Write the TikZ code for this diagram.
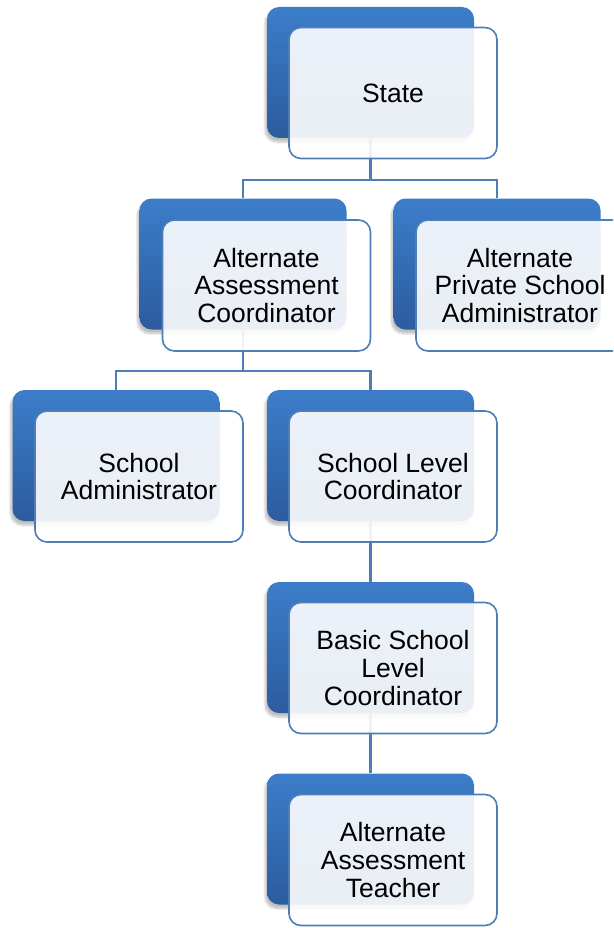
\documentclass[tikz,border=0pt]{standalone}
\usepackage{fontspec}
\setmainfont{Liberation Sans}
\usetikzlibrary{shadows.blur,backgrounds}
\definecolor{blueTop}{HTML}{3C7DCA}
\definecolor{blueBot}{HTML}{2C5C9E}
\definecolor{lineBlue}{HTML}{4F7DB8}
\definecolor{frontFill}{HTML}{FFFFFF}
\tikzset{
  backbox/.style={rounded corners=12pt, minimum width=207pt, minimum height=131pt,
    top color=blueTop, bottom color=blueBot, draw=none,
    blur shadow={shadow xshift=-2pt, shadow yshift=-4pt, shadow blur steps=6, shadow opacity=25}},
  frontbox/.style={rounded corners=12pt, minimum width=208pt, minimum height=131pt,
    draw=lineBlue, line width=1.6pt, fill=frontFill, fill opacity=0.9, text opacity=1,
    align=center, font=\fontsize{26.5}{27.6}\selectfont, inner sep=0pt},
  conn/.style={draw=lineBlue, line width=2.2pt}
}
\begin{document}
\begin{tikzpicture}[x=1pt, y=-1pt]
\useasboundingbox (0,0) rectangle (613,928);
\clip (0,0) rectangle (613,928);
% back boxes
\node[backbox] (stateB) at (370.5,72.5) {};
\node[backbox] (aacB)   at (243,264) {};
\node[backbox] (apsaB)  at (497,264) {};
\node[backbox] (saB)    at (116,455.5) {};
\node[backbox] (slcB)   at (370.5,455.5) {};
\node[backbox] (bslcB)  at (370.5,647.5) {};
\node[backbox] (aatB)   at (370.5,839) {};
% front boxes
\node[frontbox] (state) at (393,93) {State};
\node[frontbox] (aac)   at (266.5,285.5) {Alternate\\Assessment\\Coordinator};
\node[frontbox] (apsa)  at (520,285.5) {Alternate\\Private School\\Administrator};
\node[frontbox] (sa)    at (139,476.5) {School\\Administrator};
\node[frontbox] (slc)   at (393,476.5) {School Level\\Coordinator};
\node[frontbox] (bslc)  at (393,668) {Basic School\\Level\\Coordinator};
\node[frontbox] (aat)   at (393,860) {Alternate\\Assessment\\Teacher};
% connectors behind everything
\begin{scope}[on background layer]
\draw[conn] (stateB.south) -- ++(0,42) -| (aacB.north);
\draw[conn] (stateB.south) -- ++(0,42) -| (apsaB.north);
\draw[conn] (aacB.south) -- ++(0,41) -| (saB.north);
\draw[conn] (aacB.south) -- ++(0,41) -| (slcB.north);
\draw[conn] (slcB.south) -- (bslcB.north);
\draw[conn] (bslcB.south) -- (aatB.north);
\end{scope}
\end{tikzpicture}
\end{document}
